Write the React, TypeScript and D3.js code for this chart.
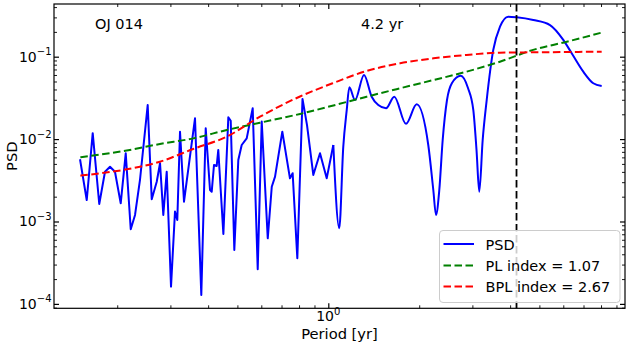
import React, { useRef, useEffect } from 'react';
import * as d3 from 'd3';

// periodogram of OJ 014 (period in yr, PSD)
const periods = [
  0.1506, 0.1585, 0.1659, 0.1744, 0.1822, 0.1893, 0.1966, 0.2054, 0.2134, 0.2217,
  0.2291, 0.2379, 0.2523, 0.2602, 0.2703, 0.2772, 0.2842, 0.2917, 0.3014, 0.3107,
  0.3162, 0.3228, 0.3328, 0.3619, 0.3797, 0.3927, 0.4058, 0.4111, 0.4183, 0.427,
  0.4322, 0.4493, 0.4666, 0.4752, 0.4884, 0.5035, 0.5167, 0.5368, 0.5619, 0.5838,
  0.6019, 0.6302, 0.6498, 0.6663, 0.7042, 0.7465, 0.762, 0.7896, 0.8214, 0.8502,
  0.8919, 0.9387, 0.9879, 1.039, 1.087, 1.121, 1.151, 1.174, 1.226, 1.313,
  1.392, 1.464, 1.553, 1.654, 1.808, 1.962, 2.143, 2.227, 2.273, 2.331,
  2.392, 2.472, 2.568, 2.744, 2.901, 3.021, 3.096, 3.162, 3.245, 3.346,
  3.518, 3.703, 3.945, 4.206, 4.773, 5.422, 5.999, 6.397, 6.988, 7.542, 8.04,
];
const psd = [
  5.69e-3, 1.82e-3, 1.18e-2, 1.63e-3, 4.02e-3, 4.62e-3, 4.02e-3, 1.66e-3, 6.72e-3, 8.04e-4,
  1.2e-3, 3.19e-3, 2.59e-2, 1.86e-3, 3.04e-3, 5.09e-3, 1.2e-3, 4.02e-3, 1.62e-4, 1.32e-3,
  1.04e-3, 1.23e-2, 1.74e-3, 1.79e-2, 1.28e-4, 1.35e-2, 2.41e-3, 2.3e-3, 4.85e-3, 4.72e-3,
  7.38e-3, 7.05e-4, 1.84e-2, 1.67e-2, 4.51e-4, 5.58e-3, 8.48e-3, 1.02e-2, 2.37e-2, 2.63e-4,
  1.63e-2, 6.25e-4, 2.64e-3, 3.5e-3, 1.23e-2, 3.34e-3, 3.85e-3, 3.58e-4, 3.07e-2, 1.48e-2,
  3.67e-3, 6.72e-3, 3.34e-3, 8.48e-3, 8.27e-4, 8.09e-3, 2.26e-2, 4.25e-2, 2.98e-2, 6.0e-2,
  3.27e-2, 2.59e-2, 2.37e-2, 3.27e-2, 1.53e-2, 2.64e-2, 8.48e-3, 2.41e-3, 1.2e-3, 2.41e-3,
  9.75e-3, 2.98e-2, 4.8e-2, 5.88e-2, 4.17e-2, 2.26e-2, 7.38e-3, 2.3e-3, 9.75e-3, 2.98e-2,
  1.21e-1, 2.31e-1, 3.06e-1, 3.01e-1, 2.79e-1, 2.42e-1, 1.6e-1, 1.1e-1, 6.58e-2, 4.76e-2, 4.41e-2,
];

// model curves
const modelPeriods = [0.151, 0.215, 0.277, 0.357, 0.461, 0.594, 0.806, 1.04, 1.34, 1.73, 2.23, 2.87, 3.7, 4.77, 6.16, 8.04];
const plValues = [6.01e-3, 7.27e-3, 8.72e-3, 1.02e-2, 1.29e-2, 1.58e-2, 2.02e-2, 2.56e-2, 3.27e-2, 4.14e-2, 5.21e-2, 6.58e-2, 8.7e-2, 1.21e-1, 1.52e-1, 1.96e-1];
const bplValues = [3.6e-3, 4.3e-3, 5.32e-3, 7.59e-3, 1.07e-2, 1.87e-2, 3.29e-2, 4.8e-2, 6.71e-2, 8.32e-2, 9.56e-2, 1.05e-1, 1.12e-1, 1.13e-1, 1.14e-1, 1.15e-1];

const peakPeriod = 4.2;
const yTickValues = [1e-4, 1e-3, 1e-2, 1e-1];
const yTickExps = ['−4', '−3', '−2', '−1'];
const xTickValues = [1];
const xTickExps = ['0'];
const legendLabels = ['PSD', 'PL index = 1.07', 'BPL index = 2.67'];
const legendColors = ['#0000ff', '#008000', '#ff0000'];
const legendDashed = [false, true, true];

const FONT = 'DejaVu Sans, sans-serif';

const App = () => {
  const svgRef = useRef<SVGSVGElement>(null);
  const width = 631;
  const height = 344;
  const plot = { left: 54, right: 625, top: 4, bottom: 308.3 };

  useEffect(() => {
    const svg = d3.select(svgRef.current);
    svg.selectAll('*').remove();

    const x = d3.scaleLog().domain([0.1235, 9.605]).range([plot.left, plot.right]);
    const y = d3.scaleLog().domain([8.84e-5, 0.436]).range([plot.bottom, plot.top]);

    const smooth = d3.line<[number, number]>()
      .x(d => x(d[0]))
      .y(d => y(d[1]))
      .curve(d3.curveMonotoneX);
    const jagged = d3.line<[number, number]>()
      .x(d => x(d[0]))
      .y(d => y(d[1]));

    // short periods look jagged, long periods smooth
    const pts: [number, number][] = periods.map((p, i) => [p, psd[i]]);
    const split = periods.indexOf(1.039);

    svg.append('path')
      .attr('d', jagged(pts.slice(0, split + 1))!)
      .attr('fill', 'none')
      .attr('stroke', '#0000ff')
      .attr('stroke-width', 2)
      .attr('stroke-linejoin', 'round');
    svg.append('path')
      .attr('d', smooth(pts.slice(split))!)
      .attr('fill', 'none')
      .attr('stroke', '#0000ff')
      .attr('stroke-width', 2)
      .attr('stroke-linejoin', 'round');

    svg.append('path')
      .attr('d', smooth(modelPeriods.map((p, i) => [p, plValues[i]]))!)
      .attr('fill', 'none')
      .attr('stroke', '#008000')
      .attr('stroke-width', 2)
      .attr('stroke-dasharray', '7.5,3.5');

    svg.append('path')
      .attr('d', smooth(modelPeriods.map((p, i) => [p, bplValues[i]]))!)
      .attr('fill', 'none')
      .attr('stroke', '#ff0000')
      .attr('stroke-width', 2)
      .attr('stroke-dasharray', '7.5,3.5');

    svg.append('line')
      .attr('x1', x(peakPeriod)).attr('x2', x(peakPeriod))
      .attr('y1', plot.top).attr('y2', plot.bottom)
      .attr('stroke', '#000')
      .attr('stroke-width', 1.8)
      .attr('stroke-dasharray', '7.5,3.5');

    // minor tick positions
    const minorX: number[] = [];
    const minorY: number[] = [];
    for (let k = -5; k <= 1; k++) {
      for (let m = 2; m <= 9; m++) {
        const v = m * Math.pow(10, k);
        if (v > 0.1235 && v < 9.605) minorX.push(v);
        if (v > 8.84e-5 && v < 0.436) minorY.push(v);
      }
    }

    const addAxis = (axis: any, tr: string, values: number[], size: number, w: number) => {
      const g = svg.append('g')
        .attr('transform', tr)
        .call(axis.tickValues(values).tickSizeInner(-size).tickSizeOuter(0).tickFormat(() => ''));
      g.select('.domain').remove();
      g.selectAll('line').attr('stroke', '#000').attr('stroke-width', w);
    };

    addAxis(d3.axisBottom(x), `translate(0,${plot.bottom})`, xTickValues, 5, 1.2);
    addAxis(d3.axisBottom(x), `translate(0,${plot.bottom})`, minorX, 3, 0.9);
    addAxis(d3.axisTop(x), `translate(0,${plot.top})`, xTickValues, 5, 1.2);
    addAxis(d3.axisTop(x), `translate(0,${plot.top})`, minorX, 3, 0.9);
    addAxis(d3.axisLeft(y), `translate(${plot.left},0)`, yTickValues, 5, 1.2);
    addAxis(d3.axisLeft(y), `translate(${plot.left},0)`, minorY, 3, 0.9);
    addAxis(d3.axisRight(y), `translate(${plot.right},0)`, yTickValues, 5, 1.2);
    addAxis(d3.axisRight(y), `translate(${plot.right},0)`, minorY, 3, 0.9);

    svg.append('rect')
      .attr('x', plot.left).attr('y', plot.top)
      .attr('width', plot.right - plot.left).attr('height', plot.bottom - plot.top)
      .attr('fill', 'none')
      .attr('stroke', '#000')
      .attr('stroke-width', 1.2);

    // tick labels
    yTickValues.forEach((v, i) => {
      const t = svg.append('text')
        .attr('x', plot.left - 2.5)
        .attr('y', y(v) + 5)
        .attr('text-anchor', 'end')
        .attr('font-family', FONT)
        .attr('font-size', 14);
      t.append('tspan').text('10');
      t.append('tspan').attr('dy', -6.5).attr('font-size', 10).text(yTickExps[i]);
    });
    xTickValues.forEach((v, i) => {
      const t = svg.append('text')
        .attr('x', x(v))
        .attr('y', 321.3)
        .attr('text-anchor', 'middle')
        .attr('font-family', FONT)
        .attr('font-size', 14);
      t.append('tspan').text('10');
      t.append('tspan').attr('dy', -6.8).attr('font-size', 10).text(xTickExps[i]);
    });

    svg.append('text')
      .attr('x', (plot.left + plot.right) / 2)
      .attr('y', 339)
      .attr('text-anchor', 'middle')
      .attr('font-family', FONT)
      .attr('font-size', 14.7)
      .text('Period [yr]');

    svg.append('text')
      .attr('transform', `translate(16.5,${(plot.top + plot.bottom) / 2}) rotate(-90)`)
      .attr('text-anchor', 'middle')
      .attr('font-family', FONT)
      .attr('font-size', 14.7)
      .text('PSD');

    svg.append('text')
      .attr('x', 95).attr('y', 29.2)
      .attr('font-family', FONT).attr('font-size', 14.5)
      .text('OJ 014');
    svg.append('text')
      .attr('x', 361).attr('y', 29.2)
      .attr('font-family', FONT).attr('font-size', 14.5)
      .text('4.2 yr');

    // legend
    const lg = svg.append('g');
    lg.append('rect')
      .attr('x', 439.5).attr('y', 230.5)
      .attr('width', 180.5).attr('height', 72)
      .attr('rx', 3.5)
      .attr('fill', '#fff').attr('fill-opacity', 0.8)
      .attr('stroke', '#cccccc').attr('stroke-width', 1);
    const rows = [244, 265.5, 286.5];
    legendLabels.forEach((lab, i) => {
      lg.append('line')
        .attr('x1', 443.5).attr('x2', 474)
        .attr('y1', rows[i]).attr('y2', rows[i])
        .attr('stroke', legendColors[i])
        .attr('stroke-width', 2)
        .attr('stroke-dasharray', legendDashed[i] ? '7.5,3.5' : null);
      lg.append('text')
        .attr('x', 485.5).attr('y', rows[i] + 5.5)
        .attr('font-family', FONT).attr('font-size', 14.5)
        .text(lab);
    });
  }, []);

  return (
    <svg
      ref={svgRef}
      width={width}
      height={height}
      style={{ position: 'absolute', left: 0, top: 0, background: '#fff' }}
    />
  );
};

export default App;
